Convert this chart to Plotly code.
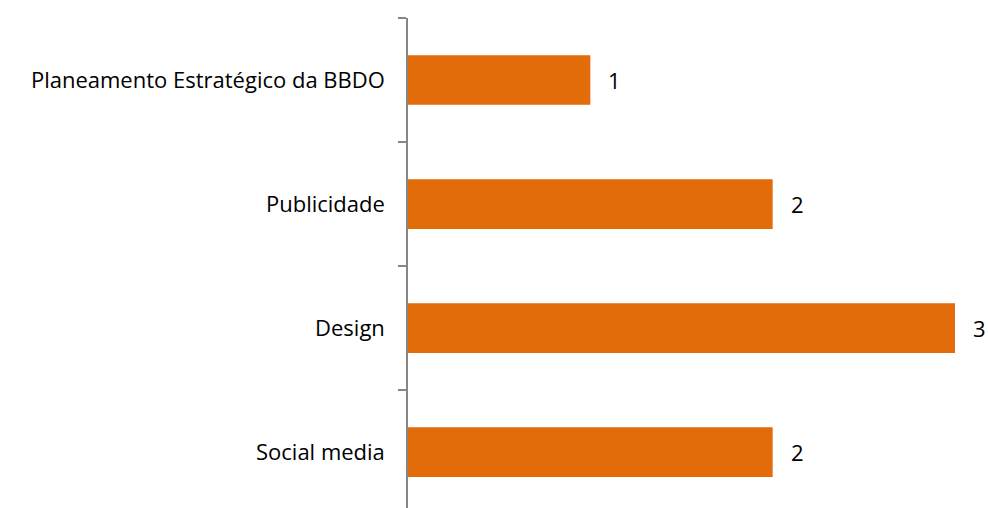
import plotly.graph_objects as go

categories = ["Planeamento Estratégico da BBDO", "Publicidade", "Design", "Social media"]
values = [1, 2, 3, 2]

bar_color = "#E36C0A"
axis_color = "#868686"
font_family = "'Open Sans', sans-serif"
font_size = 22

fig = go.Figure(
    go.Bar(
        x=values,
        y=categories,
        orientation="h",
        marker=dict(color=bar_color, line=dict(width=0)),
        width=0.4,
        hoverinfo="skip",
    )
)

# value labels to the right of each bar
for cat, val in zip(categories, values):
    fig.add_annotation(
        x=val, y=cat, text=str(val), showarrow=False,
        xanchor="left", xshift=16,
        font=dict(size=font_size, color="#000000", family=font_family),
    )

fig.update_layout(
    width=988, height=508,
    margin=dict(l=408, r=33, t=18, b=0),
    paper_bgcolor="white", plot_bgcolor="white",
    showlegend=False,
    font=dict(family=font_family, size=font_size, color="#000000"),
)

fig.update_xaxes(
    range=[0, 3], visible=False, showgrid=False, zeroline=False,
)

fig.update_yaxes(
    type="category",
    categoryorder="array", categoryarray=categories,
    range=[3.45, -0.5],
    showline=True, linecolor=axis_color, linewidth=1.5,
    ticks="outside", tickson="boundaries", ticklen=8, tickcolor=axis_color, tickwidth=1.5,
    showgrid=False, zeroline=False,
    ticklabelstandoff=17,
    tickfont=dict(size=font_size, color="#000000", family=font_family),
)

fig.write_html("out.html")
